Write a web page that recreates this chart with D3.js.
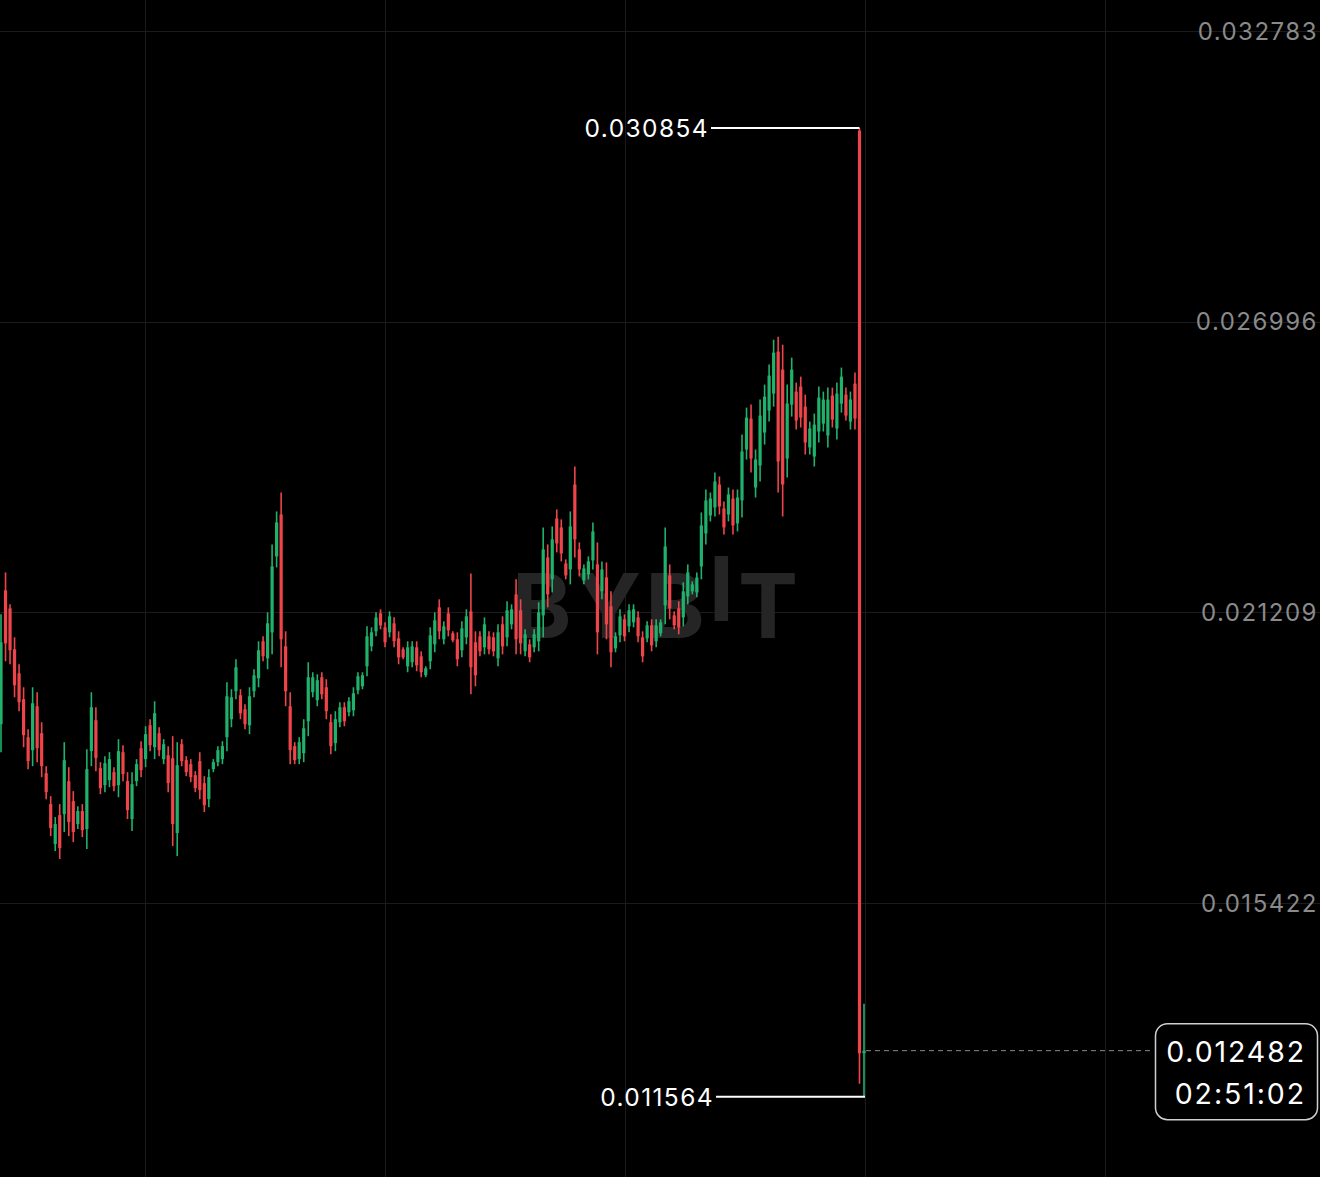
<!DOCTYPE html>
<html>
<head>
<meta charset="utf-8">
<script src="https://cdn.jsdelivr.net/npm/d3@7"></script>
<style>
html, body { margin: 0; background: #000; overflow: hidden; }
</style>
</head>
<body>
<div class="chart"></div>
<script>
// price axis ticks (right side)
var priceTicks = [0.032783, 0.026996, 0.021209, 0.015422];
// vertical time grid, expressed in candle index units
var timeTicks = [31.9, 85.0, 138.1, 191.2, 244.3];

// candle data (oldest first)
var opens = [
 0.018981,0.021647,0.021288,0.020473,0.019996,0.019479,0.018723,0.018465,0.019339,0.018803,
 0.018007,0.017390,0.016595,0.017172,0.017192,0.017848,0.017450,0.016993,0.017252,0.016894,
 0.018445,0.019061,0.018106,0.017768,0.017868,0.018027,0.017768,0.018425,0.017848,0.017093,
 0.017848,0.018504,0.018286,0.018961,0.018524,0.018803,0.018286,0.018365,0.018305,0.016814,
 0.018584,0.018266,0.018186,0.017967,0.018246,0.017808,0.017490,0.018087,0.018226,0.018286,
 0.018723,0.019081,0.019638,0.019558,0.019280,0.018961,0.019638,0.019896,0.020632,0.020293,
 0.020811,0.022322,0.023158,0.020532,0.019339,0.018544,0.018286,0.018405,0.019041,0.019618,
 0.019459,0.019916,0.019717,0.019021,0.018604,0.019021,0.019319,0.019220,0.019260,0.019658,
 0.019737,0.020135,0.020532,0.020831,0.021189,0.020910,0.020811,0.020990,0.020691,0.020473,
 0.020135,0.020215,0.020512,0.020333,0.019956,0.020235,0.020572,0.021308,0.020672,0.021189,
 0.020791,0.020672,0.020453,0.020711,0.021229,0.020612,0.020731,0.020512,0.020731,0.020711,
 0.020293,0.020970,0.020711,0.020970,0.021567,0.021249,0.020433,0.020572,0.020512,0.020632,
 0.021149,0.022302,0.021866,0.023078,0.022899,0.022183,0.022064,0.023754,0.022462,0.021846,
 0.021964,0.022243,0.022163,0.021627,0.021904,0.021328,0.020492,0.020751,0.021070,0.020930,
 0.021010,0.021109,0.020711,0.020691,0.020950,0.020632,0.020791,0.021348,0.021944,0.021149,
 0.021288,0.021109,0.021527,0.021627,0.021607,0.022123,0.022780,0.023138,0.023297,0.023754,
 0.023277,0.023158,0.023475,0.022979,0.023437,0.024451,0.025066,0.023694,0.024132,0.024789,
 0.025226,0.025564,0.026400,0.026042,0.024271,0.025345,0.025604,0.025703,0.025305,0.024491,
 0.024311,0.024809,0.024967,0.024729,0.025524,0.024869,0.025365,0.025544,0.025007,0.025763,
 0.030800,0.012430
];
var highs = [
 0.021169,0.022004,0.021368,0.020711,0.020175,0.019717,0.018883,0.019717,0.019618,0.019021,
 0.018146,0.017549,0.017132,0.017390,0.018624,0.018126,0.017649,0.017350,0.017390,0.018485,
 0.019618,0.019319,0.018226,0.018345,0.018425,0.018126,0.018684,0.018564,0.018027,0.018027,
 0.018286,0.018644,0.018941,0.019081,0.019439,0.018921,0.018684,0.018544,0.018743,0.018624,
 0.018684,0.018345,0.018286,0.018047,0.018425,0.017947,0.018087,0.018286,0.018544,0.018644,
 0.019817,0.019678,0.020275,0.019678,0.019379,0.019717,0.020076,0.020632,0.020731,0.021209,
 0.022561,0.023218,0.023595,0.020831,0.019618,0.018624,0.018723,0.019081,0.020215,0.020016,
 0.019976,0.020016,0.019877,0.019180,0.019240,0.019419,0.019419,0.019518,0.019717,0.020016,
 0.020016,0.020930,0.020910,0.021209,0.021269,0.021010,0.021229,0.021109,0.020831,0.020512,
 0.020632,0.020632,0.020632,0.020433,0.020135,0.020910,0.021209,0.021468,0.021030,0.021308,
 0.020831,0.020811,0.021030,0.021269,0.021984,0.020831,0.020831,0.021109,0.020831,0.020811,
 0.020970,0.021129,0.021428,0.021368,0.021866,0.021468,0.020871,0.020672,0.020871,0.021408,
 0.022899,0.022561,0.022919,0.023258,0.023059,0.022263,0.023218,0.024112,0.022601,0.022163,
 0.022322,0.022999,0.022601,0.022223,0.022203,0.021627,0.020811,0.021269,0.021169,0.021368,
 0.021368,0.021229,0.020831,0.021030,0.021070,0.021070,0.021070,0.022899,0.022163,0.021229,
 0.021428,0.021806,0.022163,0.021826,0.022004,0.023198,0.023655,0.023595,0.023993,0.023913,
 0.023417,0.023694,0.023655,0.023655,0.024749,0.025285,0.025345,0.024451,0.025445,0.025743,
 0.026141,0.026638,0.026697,0.026538,0.025743,0.026280,0.025783,0.025902,0.025544,0.025007,
 0.025166,0.025703,0.025604,0.025684,0.025684,0.025783,0.026082,0.025684,0.025604,0.025982,
 0.030854,0.013414
];
var lows = [
 0.018425,0.020235,0.020175,0.019518,0.019240,0.018524,0.018087,0.018146,0.018226,0.017927,
 0.017490,0.016754,0.016456,0.016297,0.016834,0.016754,0.016635,0.016894,0.016734,0.016496,
 0.018146,0.018047,0.017589,0.017629,0.017728,0.017649,0.017529,0.017848,0.017093,0.016854,
 0.017748,0.017927,0.018126,0.018445,0.018286,0.018345,0.018186,0.017629,0.016555,0.016356,
 0.018146,0.017947,0.017828,0.017629,0.017490,0.017232,0.017330,0.018027,0.018146,0.018186,
 0.018445,0.018921,0.019479,0.019081,0.018883,0.018783,0.019518,0.019717,0.020235,0.020076,
 0.020373,0.022103,0.020115,0.019339,0.018186,0.018186,0.018186,0.018226,0.018743,0.019518,
 0.019339,0.019479,0.019081,0.018385,0.018445,0.018921,0.018941,0.019140,0.019140,0.019578,
 0.019678,0.019936,0.020433,0.020731,0.020871,0.020512,0.020711,0.020512,0.020175,0.020275,
 0.020016,0.020115,0.020036,0.019916,0.019916,0.020076,0.020413,0.020672,0.020572,0.020731,
 0.020612,0.020135,0.020313,0.020572,0.019578,0.019737,0.020333,0.020373,0.020373,0.020333,
 0.020135,0.020373,0.020532,0.020871,0.020373,0.020373,0.020333,0.020215,0.020413,0.020433,
 0.020711,0.021308,0.021607,0.022402,0.022223,0.021866,0.021766,0.022302,0.021924,0.021766,
 0.021866,0.022064,0.020373,0.021468,0.020672,0.020115,0.020413,0.020612,0.020632,0.020811,
 0.020910,0.020612,0.020215,0.020612,0.020433,0.020512,0.020731,0.020970,0.021070,0.020871,
 0.020771,0.020930,0.021368,0.021567,0.021507,0.021866,0.022561,0.023019,0.023118,0.023158,
 0.022760,0.023019,0.022760,0.022820,0.023098,0.024252,0.023993,0.023495,0.023814,0.024550,
 0.025007,0.025305,0.023595,0.023118,0.023893,0.025106,0.024849,0.024889,0.024351,0.024351,
 0.024112,0.024590,0.024809,0.024491,0.024889,0.024650,0.025186,0.025027,0.024849,0.024849,
 0.011823,0.011564
];
var closes = [
 0.020612,0.020592,0.020453,0.019757,0.019419,0.018763,0.018246,0.019399,0.018504,0.018146,
 0.017629,0.016913,0.016993,0.016515,0.018266,0.017033,0.016834,0.017252,0.016874,0.018087,
 0.019319,0.018305,0.017708,0.018206,0.018286,0.017748,0.018445,0.017987,0.017272,0.017788,
 0.018186,0.018067,0.018783,0.018564,0.019200,0.018465,0.018584,0.017808,0.016993,0.018166,
 0.018246,0.018027,0.017927,0.017708,0.017669,0.017370,0.017927,0.018226,0.018465,0.018544,
 0.019538,0.019518,0.020115,0.019200,0.018981,0.019538,0.019956,0.020453,0.020333,0.020990,
 0.022123,0.022999,0.020672,0.019638,0.018465,0.018266,0.018624,0.018901,0.019916,0.019916,
 0.019857,0.019578,0.019240,0.018544,0.019081,0.019319,0.019041,0.019439,0.019598,0.019936,
 0.019956,0.020731,0.020811,0.021109,0.020950,0.020612,0.021129,0.020632,0.020313,0.020313,
 0.020512,0.020532,0.020155,0.020016,0.020095,0.020751,0.021050,0.020831,0.020930,0.020851,
 0.020652,0.020275,0.020890,0.021129,0.020115,0.019956,0.020433,0.020970,0.020473,0.020433,
 0.020811,0.020532,0.021249,0.021269,0.020672,0.020592,0.020771,0.020313,0.020771,0.021209,
 0.022462,0.021567,0.022661,0.022581,0.022382,0.021944,0.022919,0.022661,0.022064,0.022083,
 0.022223,0.022820,0.020811,0.022064,0.020970,0.020413,0.020731,0.021129,0.020731,0.021249,
 0.021269,0.020731,0.020333,0.020950,0.020552,0.020950,0.021010,0.022521,0.021288,0.020950,
 0.020910,0.021627,0.022004,0.021766,0.021904,0.022939,0.023437,0.023475,0.023814,0.023317,
 0.022899,0.023555,0.022939,0.023495,0.024411,0.025086,0.024271,0.024252,0.025126,0.025504,
 0.025922,0.026380,0.024212,0.023754,0.025365,0.026042,0.025027,0.025086,0.024590,0.024869,
 0.024947,0.025484,0.025445,0.025445,0.025047,0.025564,0.025902,0.025126,0.025445,0.025067,
 0.012430,0.012482
];

var highMark = 0.030854,
    lowMark = 0.011564,
    lastPrice = 0.012482,
    countdown = "02:51:02";

var width = 1320,
    height = 1177;

var up = "#20b26c",
    down = "#ef454a";

var font = "Inter, 'Noto Sans', sans-serif";

var svg = d3.select(".chart")
    .append("svg")
    .attr("width", width)
    .attr("height", height)
    .style("display", "block")
    .style("background", "#000");

// scales
var y = d3.scaleLinear()
    .domain([priceTicks[3], priceTicks[0]])
    .range([903, 31]);

var x = d3.scaleLinear()
    .domain([0, opens.length - 1])
    .range([1, 864]);

// grid
svg.append("g")
    .selectAll("line")
    .data(timeTicks)
    .enter()
    .append("line")
    .attr("x1", (d) => { return Math.round(x(d)) + 0.5 })
    .attr("x2", (d) => { return Math.round(x(d)) + 0.5 })
    .attr("y1", 0)
    .attr("y2", height)
    .attr("stroke", "#1b1b1b")
    .attr("stroke-width", 1);

svg.append("g")
    .selectAll("line")
    .data(priceTicks)
    .enter()
    .append("line")
    .attr("x1", 0)
    .attr("x2", width)
    .attr("y1", (d) => { return Math.round(y(d)) + 0.5 })
    .attr("y2", (d) => { return Math.round(y(d)) + 0.5 })
    .attr("stroke", "#1b1b1b")
    .attr("stroke-width", 1);

// watermark
var wm = svg.append("text")
    .attr("x", 657)
    .attr("y", 638)
    .attr("text-anchor", "middle")
    .attr("font-family", font)
    .attr("font-weight", 700)
    .attr("font-size", 90)
    .attr("letter-spacing", 4)
    .attr("fill", "#252525");
wm.append("tspan").text("BYB");
wm.append("tspan").attr("dy", -17).text("I");
wm.append("tspan").attr("dy", 17).text("T");

// candles
var candles = svg.append("g")
    .selectAll("g")
    .data(d3.range(opens.length))
    .enter()
    .append("g")
    .attr("fill", (i) => { return closes[i] >= opens[i] ? up : down })
    .attr("stroke", (i) => { return closes[i] >= opens[i] ? up : down });

candles.append("line")
    .attr("x1", (i) => { return x(i) })
    .attr("x2", (i) => { return x(i) })
    .attr("y1", (i) => { return y(highs[i]) })
    .attr("y2", (i) => { return y(lows[i]) })
    .attr("stroke-width", 1.6);

candles.append("rect")
    .attr("stroke", "none")
    .attr("x", (i) => { return x(i) - 1.6 })
    .attr("width", 3.2)
    .attr("y", (i) => { return y(Math.max(opens[i], closes[i])) })
    .attr("height", (i) => { return Math.max(1, Math.abs(y(opens[i]) - y(closes[i]))) });

// price labels on the right
svg.append("g")
    .selectAll("text")
    .data(priceTicks)
    .enter()
    .append("text")
    .attr("x", 1318)
    .attr("y", (d) => { return y(d) })
    .attr("dy", "0.36em")
    .attr("text-anchor", "end")
    .attr("font-family", font)
    .attr("font-size", 24)
    .attr("letter-spacing", 1.5)
    .attr("fill", "#8a8a8a")
    .text((d) => { return d.toFixed(6) });

// highest / lowest markers
var hiIdx = d3.maxIndex(highs),
    loIdx = d3.minIndex(lows);

svg.append("line")
    .attr("x1", 711).attr("x2", x(hiIdx))
    .attr("y1", y(highMark)).attr("y2", y(highMark))
    .attr("stroke", "#fff").attr("stroke-width", 2);
svg.append("text")
    .attr("x", 709).attr("y", y(highMark)).attr("dy", "0.36em")
    .attr("text-anchor", "end")
    .attr("font-family", font)
    .attr("font-size", 24.5)
    .attr("letter-spacing", 1.4)
    .attr("fill", "#fff")
    .text(highMark.toFixed(6));

svg.append("line")
    .attr("x1", 716).attr("x2", x(loIdx) + 1)
    .attr("y1", y(lowMark)).attr("y2", y(lowMark))
    .attr("stroke", "#fff").attr("stroke-width", 2);
svg.append("text")
    .attr("x", 714).attr("y", y(lowMark)).attr("dy", "0.36em")
    .attr("text-anchor", "end")
    .attr("font-family", font)
    .attr("font-size", 24.5)
    .attr("letter-spacing", 1.4)
    .attr("fill", "#fff")
    .text(lowMark.toFixed(6));

// last price line and box
svg.append("line")
    .attr("x1", x(opens.length - 1) + 2).attr("x2", 1154)
    .attr("y1", y(lastPrice)).attr("y2", y(lastPrice))
    .attr("stroke", "#8a8a8a").attr("stroke-width", 1)
    .attr("stroke-dasharray", "5,4");

var box = svg.append("g");
box.append("rect")
    .attr("x", 1155.5).attr("y", y(lastPrice) - 27)
    .attr("width", 162).attr("height", 96)
    .attr("rx", 12).attr("ry", 12)
    .attr("fill", "#000")
    .attr("stroke", "#cfcfcf").attr("stroke-width", 1.5);
box.append("text")
    .attr("x", 1306).attr("y", y(lastPrice) + 1).attr("dy", "0.36em")
    .attr("text-anchor", "end")
    .attr("font-family", font)
    .attr("font-size", 28.5)
    .attr("letter-spacing", 1.9)
    .attr("fill", "#fff")
    .text(lastPrice.toFixed(6));
box.append("text")
    .attr("x", 1306).attr("y", y(lastPrice) + 43).attr("dy", "0.36em")
    .attr("text-anchor", "end")
    .attr("font-family", font)
    .attr("font-size", 28.5)
    .attr("letter-spacing", 1.9)
    .attr("fill", "#fff")
    .text(countdown);
</script>
</body>
</html>
